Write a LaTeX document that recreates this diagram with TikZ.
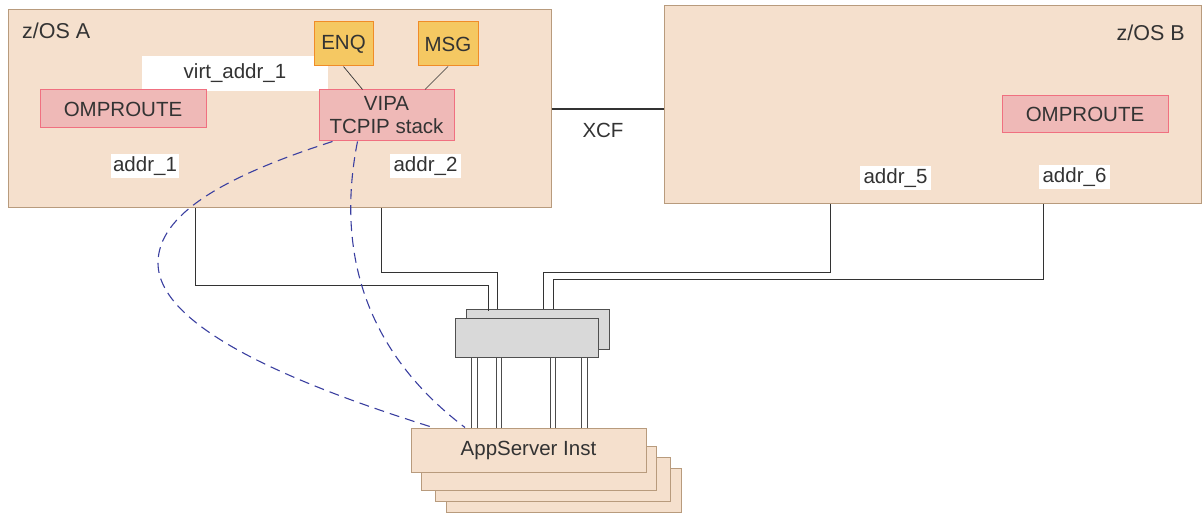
\documentclass[tikz,border=0pt]{standalone}
\usepackage{fontspec}
\setmainfont{Liberation Sans}
\usepackage{tikz}
\usetikzlibrary{positioning, calc, arrows.meta}
\definecolor{zosfill}{HTML}{F5E0CD}
\definecolor{zosline}{HTML}{B89B7D}
\definecolor{routefill}{HTML}{EFB9B7}
\definecolor{routeline}{HTML}{F07080}
\definecolor{utilfill}{HTML}{F5C862}
\definecolor{utilline}{HTML}{F08C28}
\definecolor{swfill}{HTML}{D9D9D9}
\definecolor{swline}{HTML}{505050}
\definecolor{textc}{HTML}{333333}
\definecolor{vipac}{HTML}{3A3FA0}
\tikzset{
  zosbox/.style={draw=zosline, fill=zosfill, inner sep=0pt, line width=1pt},
  routebox/.style={draw=routeline, fill=routefill, inner sep=0pt, line width=1pt, minimum width=166, minimum height=38},
  utilbox/.style={draw=utilline, fill=utilfill, inner sep=0pt, line width=1pt, minimum width=59, minimum height=44},
  addrlbl/.style={fill=white, inner sep=0pt, minimum width=71, minimum height=24},
  swbox/.style={draw=swline, fill=swfill, inner sep=0pt, line width=1pt, minimum width=143, minimum height=38},
  instbox/.style={draw=zosline, fill=zosfill, inner sep=0pt, line width=1pt, minimum width=235, minimum height=44},
  link/.style={draw=black!80, line width=0.9pt},
  pair/.style={draw=black!70, line width=0.9pt, double=white, double distance=4.4pt},
  vipalink/.style={draw=vipac, line width=1.1pt, dash pattern=on 10pt off 6pt}
}

\begin{document}
\begin{tikzpicture}[x=1pt, y=-1pt, every node/.style={text=textc}, font=\fontsize{20.5}{23}\selectfont]
    \useasboundingbox (0,0) rectangle (1203,513);
    % \draw[help lines, step=50] (0,0) grid (1203,513);

    \node[zosbox, minimum width=543, minimum height=198](zosA) at (279.5,109){};
    \node[zosbox, minimum width=537, minimum height=198](zosB) at (932.5,105){};
    \node[anchor=base west, inner sep=0pt, font=\fontsize{21.5}{24}\selectfont](nameA) at (22,39){z/OS A};
    \node[anchor=base east, inner sep=0pt, font=\fontsize{21.5}{24}\selectfont](nameB) at (1185,41){z/OS B};

    \node[fill=white, inner sep=0pt, minimum width=186, minimum height=35](virt) at (235,73.5){virt\_addr\_1};
    \node[routebox](routeA) at (123,109){OMPROUTE};
    \node[routebox, minimum height=37](routeB) at (1085,114.5){OMPROUTE};
    \node[utilbox](enq) at (343.5,44){ENQ};
    \node[utilbox, minimum width=60](msg) at (448,44){MSG};
    \node[routebox, minimum width=135, minimum height=51, align=center](vipa) at (386.5,115.5){VIPA\\TCPIP stack};
    \draw[black!80, line width=0.7pt] (enq.south) -- ([xshift=-24pt]vipa.north);
    \draw[black!80, line width=0.7pt] (msg.south) -- ([xshift=38.5pt]vipa.north);

    \node[addrlbl, minimum width=68](addr1) at (145,166){addr\_1};
    \node[addrlbl](addr2) at (425.5,166){addr\_2};
    \node[addrlbl](addr5) at (895.5,178){addr\_5};
    \node[addrlbl](addr6) at (1074.5,177){addr\_6};

    \draw[draw=textc, line width=2pt] (zosA.east) -- (zosA.east -| zosB.west);
    \node(xcf) at (603,130){XCF};

    % switch
    \node[swbox, minimum height=39](swB) at (537.5,329.5){};
    \draw[link] ([xshift=-84.5pt]zosA.south) -- ++(0,77) -| ([xshift=-49.5pt,yshift=-2pt]swB.north);
    \draw[link] ([xshift=101.5pt]zosA.south) -- ++(0,64) -| ([xshift=-40.5pt]swB.north);
    \draw[link] ([xshift=-102.5pt]zosB.south) -- ++(0,68) -| ([xshift=5.5pt]swB.north);
    \draw[link] ([xshift=110.5pt]zosB.south) -- ++(0,75) -| ([xshift=15.5pt]swB.north);
    \node[swbox](swF) at (526.5,338){};

    % app server instances
    \node[instbox](inst4) at (564,490){};
    \node[instbox](inst3) at (553,479){};
    \node[instbox](inst2) at (538.5,468){};
    \node[instbox](inst1) at (528.5,450){AppServer Inst};
    \foreach \dx in {-52,-27.5,26.5,58}
        \draw[pair] ([xshift=\dx pt]swF.south) -- ([xshift=\dx pt]swF.south |- inst1.north);

    \draw[vipalink] ([xshift=14pt]vipa.south west) .. controls (222,177) and (158,215) .. (158,263)
        .. controls (158,335) and (330,395) .. ([xshift=-95.5pt]inst1.north);
    \draw[vipalink] ([xshift=39pt]vipa.south west) .. controls (340,230) and (350,340) .. ([xshift=-63.5pt]inst1.north);
\end{tikzpicture}
\end{document}
